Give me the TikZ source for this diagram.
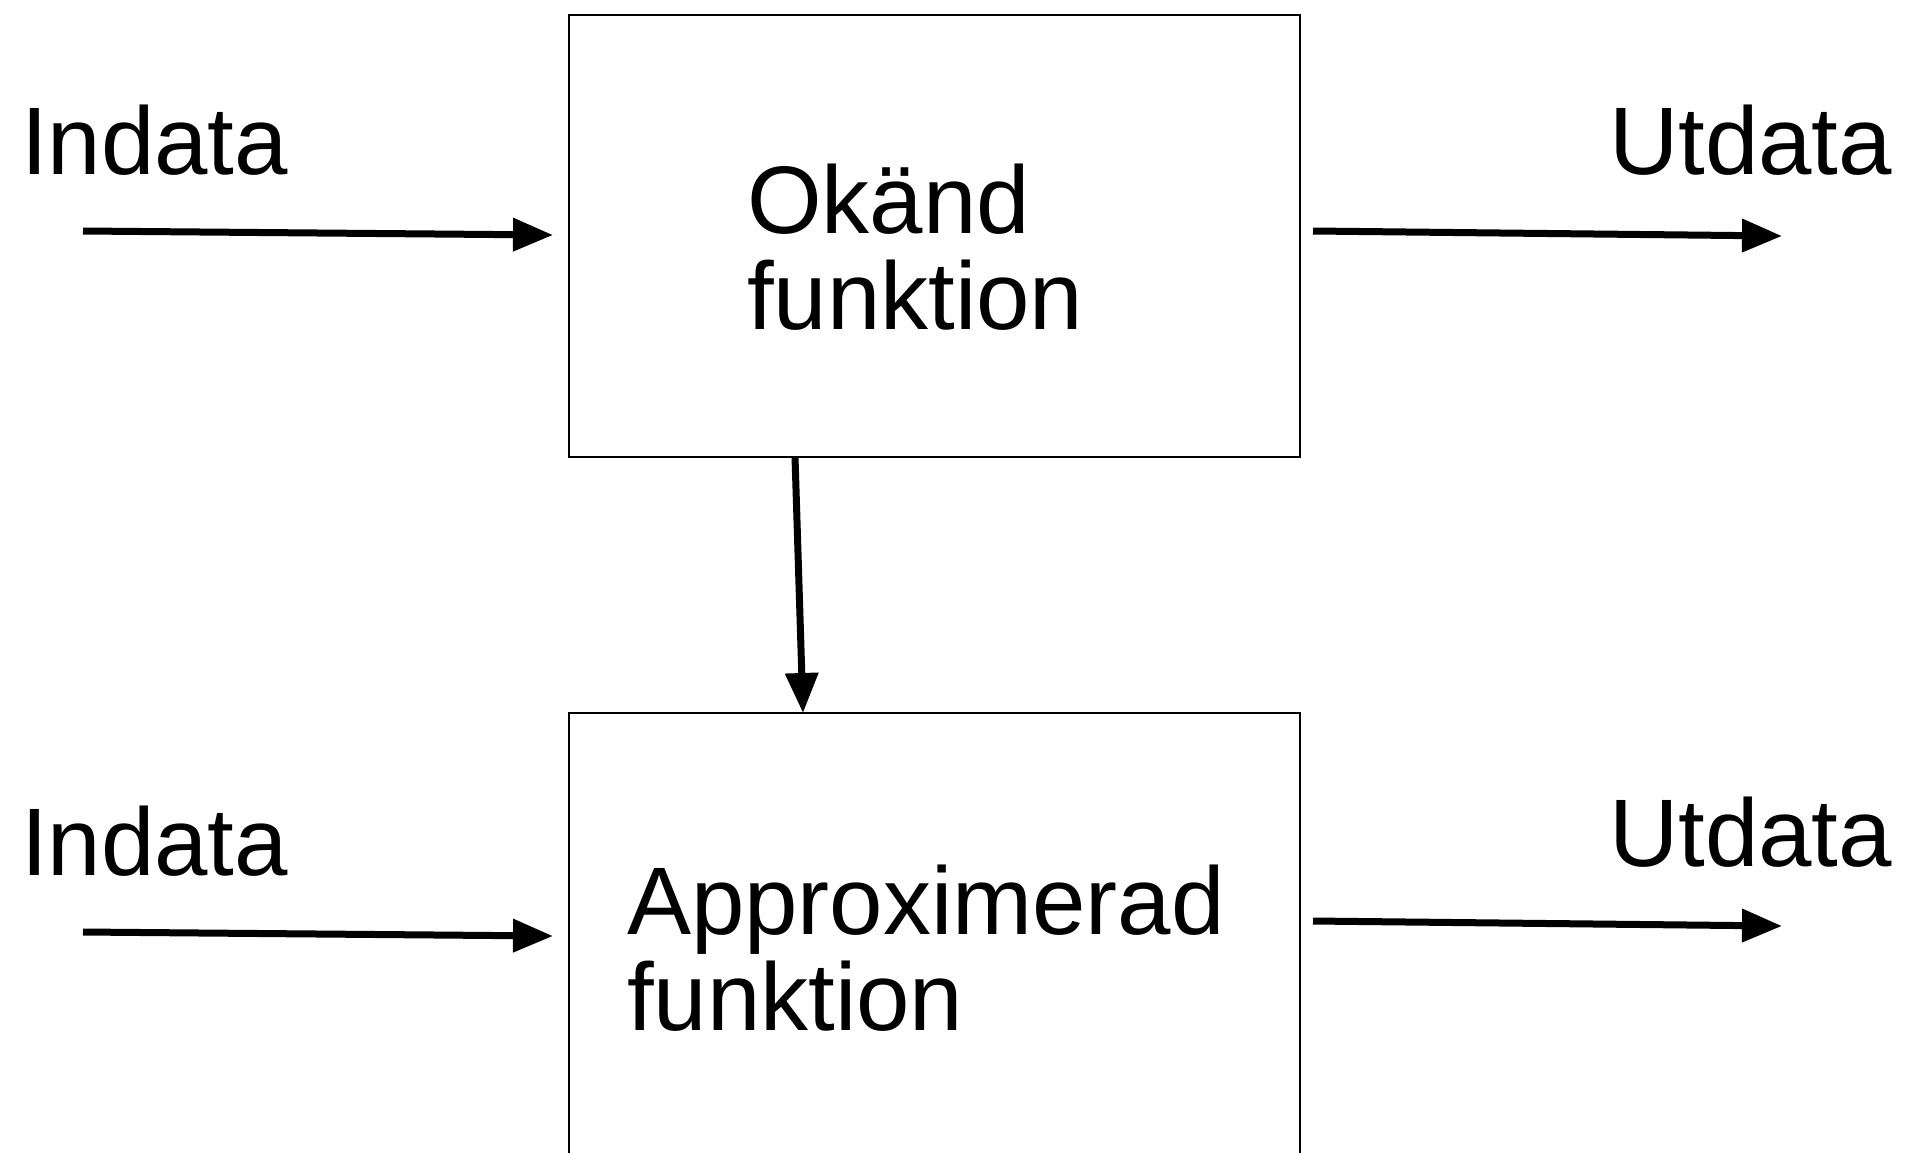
\documentclass[tikz,border=0pt]{standalone}
\usepackage{fontspec}
\setmainfont{Liberation Sans}
\usetikzlibrary{arrows.meta}
\tikzset{
  box/.style={draw=black, line width=2pt, rectangle, inner sep=0pt, outer sep=0pt},
  lbl/.style={inner sep=0pt, outer sep=0pt, anchor=base west, align=left,
              font=\fontsize{96}{96}\selectfont},
  arr/.style={line width=7pt, -{Triangle[length=40pt,width=32pt]}}
}
\begin{document}
\begin{tikzpicture}[x=1pt,y=-1pt]
  \useasboundingbox (0,0) rectangle (1906,1152);
  \clip (0,0) rectangle (1906,1152);
  \fill[white] (0,0) rectangle (1906,1152);
  % boxes
  \node[box, minimum width=731pt, minimum height=442pt] (top) at (934.5,236) {};
  \node[box, minimum width=731pt, minimum height=540pt] (bot) at (934.5,983) {};
  % labels
  \node[lbl] (in1) at (21,174) {Indata};
  \node[lbl] (out1) at (1609,174) {Utdata};
  \node[lbl] (in2) at (21,875) {Indata};
  \node[lbl] (out2) at (1609,866) {Utdata};
  \node[lbl] (t1) at (747,329) {Okänd\\funktion};
  \node[lbl] (t2) at (627,1030) {Approximerad\\funktion};
  % arrow end points
  \coordinate (a1s) at (83,231);   \coordinate (a1e) at (553,235);
  \coordinate (b1s) at (1313,231); \coordinate (b1e) at (1782,236);
  \coordinate (a2s) at (83,932);   \coordinate (a2e) at (553,936);
  \coordinate (b2s) at (1313,921); \coordinate (b2e) at (1782,926);
  \coordinate (vs) at (795,457);   \coordinate (ve) at (803,713);
  % connectors
  \draw[arr] (a1s) -- (a1e);
  \draw[arr] (b1s) -- (b1e);
  \draw[arr] (a2s) -- (a2e);
  \draw[arr] (b2s) -- (b2e);
  \draw[arr] (vs) -- (ve);
\end{tikzpicture}
\end{document}
